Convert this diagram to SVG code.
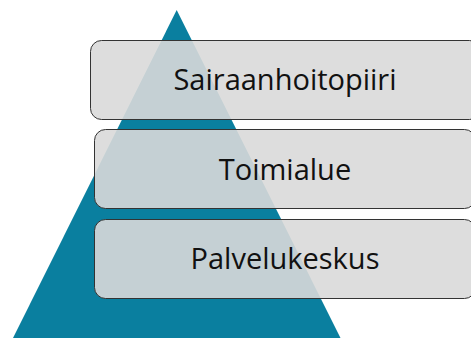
<svg xmlns="http://www.w3.org/2000/svg" width="471" height="338" viewBox="0 0 471 338">
  <style>
    .tier { fill: #d9d9d9; fill-opacity: 0.9; stroke: #333333; stroke-width: 1; }
    .label { font-family: "Open Sans", "Noto Sans", sans-serif; font-size: 29px; fill: #111111; text-anchor: middle; }
  </style>
  <rect width="471" height="338" fill="#ffffff"/>
  <!-- pyramid backdrop -->
  <polygon id="pyramid" points="176.7,10 340.5,338 13,338" fill="#0a7f9f"/>
  <g id="tier-1">
    <rect class="tier" x="90.5" y="40.5" width="390" height="79" rx="11"/>
    <text class="label" x="285" y="90">Sairaanhoitopiiri</text>
  </g>
  <g id="tier-2">
    <rect class="tier" x="94.5" y="129.5" width="381" height="79" rx="11"/>
    <text class="label" x="285" y="180">Toimialue</text>
  </g>
  <g id="tier-3">
    <rect class="tier" x="94.5" y="219.5" width="381" height="79" rx="11"/>
    <text class="label" x="285" y="268.5">Palvelukeskus</text>
  </g>
  <g id="connectors"/>
</svg>
